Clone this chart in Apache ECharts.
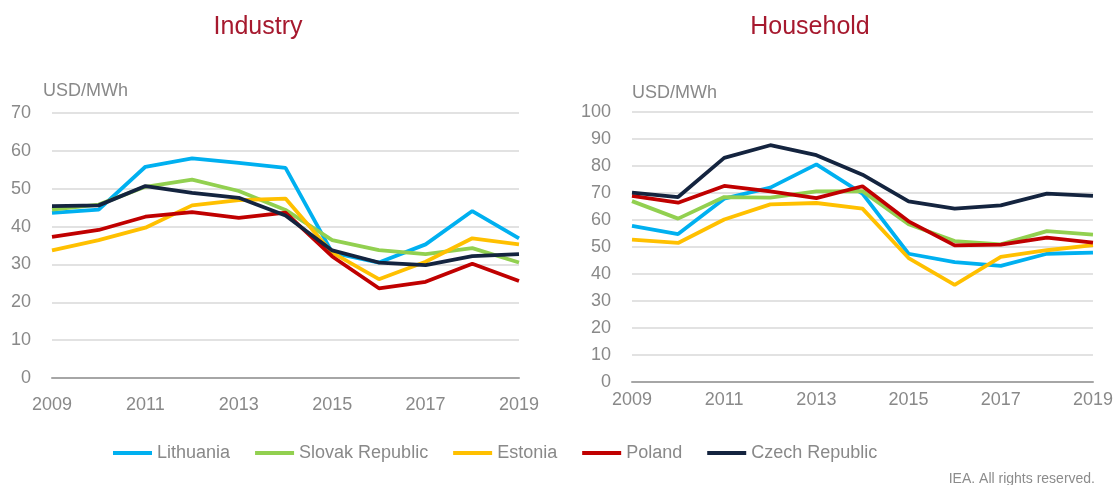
<!DOCTYPE html>
<html>
<head>
<meta charset="utf-8">
<script src="https://cdn.jsdelivr.net/npm/echarts@6/dist/echarts.min.js"></script>
<style>
  html, body { margin: 0; padding: 0; background: #ffffff; }
  #chart { width: 1116px; height: 485px; }
</style>
</head>
<body>
<div id="chart"></div>
<script>
// Electricity prices by consumer type, USD/MWh
const years = ['2009', '2010', '2011', '2012', '2013', '2014', '2015', '2016', '2017', '2018', '2019'];
const countries = ['Lithuania', 'Slovak Republic', 'Estonia', 'Poland', 'Czech Republic'];
const colors = ['#00b0f0', '#92d050', '#ffc000', '#c00000', '#14243f'];

// Industry prices
const industryLithuania = [43.6, 44.5, 55.8, 58.0, 56.8, 55.5, 33.1, 30.5, 35.3, 44.1, 36.9];
const industrySlovak    = [44.5, 45.8, 50.5, 52.4, 49.4, 44.4, 36.4, 33.8, 32.7, 34.3, 30.5];
const industryEstonia   = [33.7, 36.4, 39.7, 45.6, 47.0, 47.4, 33.1, 26.1, 30.7, 36.9, 35.3];
const industryPoland    = [37.3, 39.1, 42.6, 43.8, 42.3, 43.7, 32.1, 23.7, 25.4, 30.2, 25.6];
const industryCzech     = [45.4, 45.6, 50.7, 48.9, 47.6, 42.9, 33.7, 30.5, 29.8, 32.2, 32.7];

// Household prices
const householdLithuania = [57.8, 54.8, 67.9, 72.0, 80.6, 69.8, 47.5, 44.4, 43.0, 47.5, 47.9];
const householdSlovak    = [67.0, 60.5, 68.5, 68.3, 70.6, 70.7, 58.4, 52.2, 51.0, 55.9, 54.6];
const householdEstonia   = [52.7, 51.5, 60.2, 65.8, 66.3, 64.2, 45.9, 36.0, 46.3, 48.8, 50.7];
const householdPoland    = [68.9, 66.4, 72.6, 70.6, 68.1, 72.5, 59.5, 50.6, 50.9, 53.5, 51.6];
const householdCzech     = [70.1, 68.5, 83.0, 87.7, 84.0, 76.8, 66.9, 64.2, 65.4, 69.8, 68.9];

const industry = [industryLithuania, industrySlovak, industryEstonia, industryPoland, industryCzech];
const household = [householdLithuania, householdSlovak, householdEstonia, householdPoland, householdCzech];

const SANS = "'Liberation Sans', Arial, sans-serif";
const GREY = '#898989';

function xAxis(gridIndex, margin) {
  return {
    type: 'category', gridIndex, data: years, boundaryGap: false,
    axisLine: { show: true, lineStyle: { color: '#a6a6a6', width: 2 } },
    axisTick: { show: false },
    axisLabel: { interval: 1, color: GREY, fontFamily: SANS, fontSize: 18, margin }
  };
}
function yAxis(gridIndex, max) {
  return {
    type: 'value', gridIndex, min: 0, max, interval: 10,
    axisLine: { show: false }, axisTick: { show: false },
    axisLabel: { color: GREY, fontFamily: SANS, fontSize: 18, margin: 21 },
    splitLine: { lineStyle: { color: '#d9d9d9', width: 1.5 } }
  };
}

const series = [];
countries.forEach((name, i) => {
  [industry, household].forEach((set, g) => {
    series.push({
      name, type: 'line', xAxisIndex: g, yAxisIndex: g, data: set[i],
      showSymbol: false, symbol: 'none', smooth: false,
      lineStyle: { color: colors[i], width: 3.8 }, itemStyle: { color: colors[i] },
      emphasis: { disabled: true }
    });
  });
});

const chart = echarts.init(document.getElementById('chart'), null, { renderer: 'canvas' });
chart.setOption({
  animation: false,
  color: colors,
  title: [
    { text: 'Industry', left: 253, top: 10, textAlign: 'center',
      textStyle: { color: '#a6192e', fontFamily: SANS, fontSize: 25, fontWeight: 'normal' } },
    { text: 'Household', left: 805, top: 10, textAlign: 'center',
      textStyle: { color: '#a6192e', fontFamily: SANS, fontSize: 25, fontWeight: 'normal' } }
  ],
  grid: [
    { left: 52, right: 597, top: 113, bottom: 107 },
    { left: 632, right: 21, top: 112, bottom: 103 }
  ],
  xAxis: [xAxis(0, 18), xAxis(1, 9)],
  yAxis: [yAxis(0, 70), yAxis(1, 100)],
  legend: {
    data: countries, left: 113, top: 444, itemGap: 25, padding: 0,
    icon: 'rect', itemWidth: 39, itemHeight: 4,
    textStyle: { color: GREY, fontFamily: SANS, fontSize: 18 }
  },
  graphic: [
    { type: 'text', left: 43, top: 82,
      style: { text: 'USD/MWh', fill: GREY, font: '18px ' + SANS } },
    { type: 'text', left: 632, top: 84,
      style: { text: 'USD/MWh', fill: GREY, font: '18px ' + SANS } },
    { type: 'text', right: 21, top: 472,
      style: { text: 'IEA. All rights reserved.', fill: '#8c8c8c', font: '14px ' + SANS } }
  ],
  series
});
</script>
</body>
</html>
